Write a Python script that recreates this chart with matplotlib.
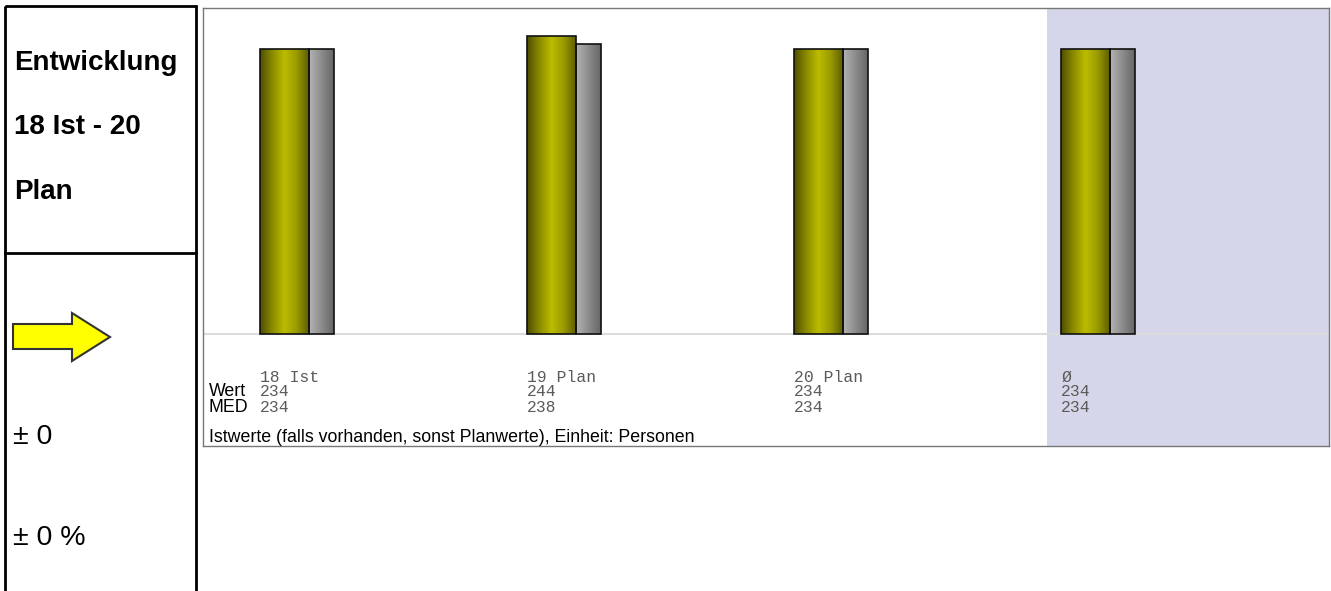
import matplotlib
matplotlib.use("Agg")

import matplotlib.pyplot as plt
import numpy as np
from matplotlib.colors import LinearSegmentedColormap
from matplotlib.patches import Polygon, Rectangle

# data
categories = ["18 Ist", "19 Plan", "20 Plan", "Ø"]
wert = [234, 244, 234, 234]
med = [234, 238, 234, 234]
title_lines = ["Entwicklung", "18 Ist - 20", "Plan"]
delta_abs = "± 0"
delta_pct = "± 0 %"
footnote = "Istwerte (falls vorhanden, sonst Planwerte), Einheit: Personen"

W, H = 1331, 591
fig = plt.figure(figsize=(W / 100, H / 100), dpi=100)
plt.rcParams["font.family"] = ["Liberation Sans", "DejaVu Sans"]

OLIVE = LinearSegmentedColormap.from_list(
    "olive", ["#4e4e00", "#8a8a00", "#bcbc00", "#9a9a00", "#5e5e00"])
GREY = LinearSegmentedColormap.from_list("grey", ["#b4b4b4", "#8c8c8c", "#666666"])


def px_axes(x0, y0, x1, y1):
    return fig.add_axes([x0 / W, 1 - y1 / H, (x1 - x0) / W, (y1 - y0) / H])


# --- left panel (pixel overlay) ---
bg = fig.add_axes([0, 0, 1, 1])
bg.set_xlim(0, W)
bg.set_ylim(H, 0)
bg.axis("off")
bg.add_patch(Rectangle((5, 6), 191, 600, fill=False, lw=2, ec="black"))
bg.plot([5, 196], [253, 253], color="black", lw=2)
for k, line in enumerate(title_lines):
    bg.text(14, 63 + k * 64.5, line, fontsize=20, fontweight="bold",
            va="center", ha="left")
bg.add_patch(Polygon([(13, 324), (72, 324), (72, 313), (110, 337),
                      (72, 361), (72, 349), (13, 349)],
                     closed=True, fc="#ffff00", ec="#333333", lw=1.5))
bg.text(13, 437, delta_abs, fontsize=20.5, va="center", ha="left")
bg.text(13, 538, delta_pct, fontsize=20.5, va="center", ha="left")

# --- chart box ---
ax = px_axes(203, 8, 1329, 446)
unit = 267.0  # px per category
x_lo = -57 / unit
x_hi = x_lo + 1126 / unit
px_per_val = 1.22
y_lo = -112 / px_per_val
y_hi = 326 / px_per_val

x = np.arange(len(categories))
w_main = 49 / unit
w_side = 25 / unit

ax.axvspan(2.948, x_hi, color="#d6d6ea", zorder=0, lw=0)
ax.axhline(0, color="#dcdcdc", lw=1.5, zorder=1)

grad = np.linspace(0, 1, 256).reshape(1, -1)
b1 = ax.bar(x, wert, width=w_main, align="edge", fc="none", ec="#111111",
            lw=1.2, zorder=3)
b2 = ax.bar(x + w_main, med, width=w_side, align="edge", fc="none",
            ec="#111111", lw=1.2, zorder=3)
for bars, cmap in ((b1, OLIVE), (b2, GREY)):
    for r in bars:
        bx, by = r.get_x(), r.get_y()
        im = ax.imshow(grad, cmap=cmap, aspect="auto", zorder=2,
                       extent=(bx, bx + r.get_width(), by, by + r.get_height()))
        im.set_clip_path(r)

tr = ax.get_xaxis_transform()


def fy(py):
    return (446 - py) / 438


mono = dict(family="Liberation Mono", fontsize=11.8, color="#5a5a5a",
            va="center", ha="left")
for i, c in enumerate(categories):
    ax.text(x[i], fy(377), c, transform=tr, **mono)
    ax.text(x[i], fy(392), str(wert[i]), transform=tr, **mono)
    ax.text(x[i], fy(408), str(med[i]), transform=tr, **mono)
sans = dict(transform=ax.transAxes, fontsize=12.8, va="center", ha="left")
ax.text(6 / 1126, fy(392), "Wert", **sans)
ax.text(6 / 1126, fy(408), "MED", **sans)
ax.text(6 / 1126, fy(437), footnote, **sans)

ax.set_xlim(x_lo, x_hi)
ax.set_ylim(y_lo, y_hi)
ax.set_xticks([])
ax.set_yticks([])
for s in ax.spines.values():
    s.set_color("#777777")
    s.set_linewidth(1)

fig.savefig("out.png", dpi=100)
